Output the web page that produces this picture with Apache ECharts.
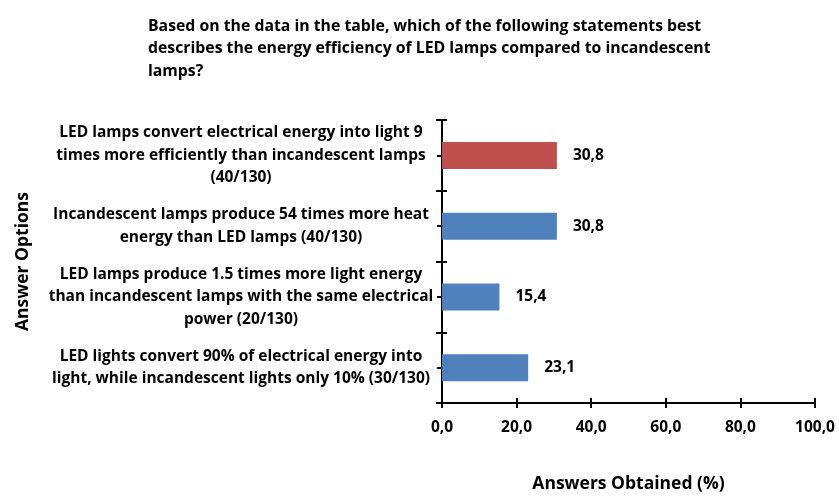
<!DOCTYPE html>
<html>
<head>
<meta charset="utf-8">
<script src="https://cdn.jsdelivr.net/npm/echarts@6/dist/echarts.min.js"></script>
<style>
  html, body { margin: 0; padding: 0; background: #fff; }
  #chart { width: 839px; height: 498px; }
</style>
</head>
<body>
<div id="chart"></div>
<script>
// answer options, listed bottom -> top (category axis starts at the bottom)
const categories = [
  'LED lights convert 90% of electrical energy into\nlight, while incandescent lights only 10% (30/130)',
  'LED lamps produce 1.5 times more light energy\nthan incandescent lamps with the same electrical\npower (20/130)',
  'Incandescent lamps produce 54 times more heat\nenergy than LED lamps (40/130)',
  'LED lamps convert electrical energy into light 9\ntimes more efficiently than incandescent lamps\n(40/130)'
]
const percentValues = [23.1, 15.4, 30.8, 30.8]
const correctIndex = 3 // the right answer is drawn in red
const xTicks = [0, 20, 40, 60, 80, 100]

const FONT = 'Open Sans'
const chart = echarts.init(document.getElementById('chart'))

const gridBox = { left: 442, top: 120, width: 373, height: 295 }

// extra axes only used to draw the small ticks that cross the axis lines
const tickAxis = (inside, align) => ({
  type: 'category',
  data: categories,
  position: 'left',
  axisLine: { show: false },
  axisLabel: { show: false },
  axisTick: { show: true, inside: inside, alignWithLabel: align, length: 5, lineStyle: { color: '#000', width: 2 } }
})

const option = {
  backgroundColor: '#fff',
  animation: false,
  title: {
    text: 'Based on the data in the table, which of the following statements best\ndescribes the energy efficiency of LED lamps compared to incandescent\nlamps?',
    left: 143,
    top: 10,
    textStyle: { fontFamily: FONT, fontWeight: 'bold', fontSize: 15.8, lineHeight: 22.5, color: '#000' }
  },
  grid: gridBox,
  xAxis: [{
    type: 'value',
    min: 0,
    max: 100,
    interval: 20,
    name: 'Answers Obtained (%)',
    nameLocation: 'middle',
    nameGap: 72,
    nameTextStyle: { fontFamily: FONT, fontWeight: 'bold', fontSize: 17.5, color: '#000' },
    axisLine: { show: true, lineStyle: { color: '#000', width: 2 } },
    axisTick: { show: true, length: 5, lineStyle: { color: '#000', width: 2 } },
    splitLine: { show: false },
    axisLabel: {
      margin: 17,
      fontFamily: FONT, fontWeight: 'bold', fontSize: 15.5, color: '#000',
      formatter: v => xTicks.includes(v) ? v.toFixed(1).replace('.', ',') : ''
    }
  }, {
    type: 'value',
    min: 0,
    max: 100,
    interval: 20,
    position: 'bottom',
    axisLine: { show: false },
    axisLabel: { show: false },
    splitLine: { show: false },
    axisTick: { show: true, inside: true, length: 5, lineStyle: { color: '#000', width: 2 } }
  }],
  yAxis: [{
    type: 'category',
    data: categories,
    name: 'Answer Options',
    nameLocation: 'middle',
    nameGap: 410,
    nameRotate: 90,
    nameTextStyle: { fontFamily: FONT, fontWeight: 'bold', fontSize: 17.5, color: '#000' },
    axisLine: { show: true, lineStyle: { color: '#000', width: 2 } },
    axisTick: { show: true, length: 6, lineStyle: { color: '#000', width: 2 } },
    axisLabel: {
      margin: 16,
      align: 'right',
      formatter: v => v.split('\n').map(s => '{a|' + s + '}').join('\n'),
      rich: {
        a: {
          fontFamily: FONT, fontWeight: 'bold', fontSize: 15.5, lineHeight: 22.5, color: '#000',
          width: 370,
          align: 'center'
        }
      }
    }
  },
  tickAxis(true, false),
  tickAxis(false, true),
  tickAxis(true, true)
  ],
  series: [{
    type: 'bar',
    xAxisIndex: 0,
    yAxisIndex: 0,
    barWidth: 27,
    data: percentValues.map((v, i) => ({
      value: v,
      itemStyle: { color: i === correctIndex ? '#C0504D' : '#4F81BD' }
    })),
    label: {
      show: true,
      position: 'right',
      distance: 16,
      fontFamily: FONT, fontWeight: 'bold', fontSize: 15.5, color: '#000',
      formatter: p => p.value.toFixed(1).replace('.', ',')
    }
  }]
}

chart.setOption(option)
</script>
</body>
</html>
